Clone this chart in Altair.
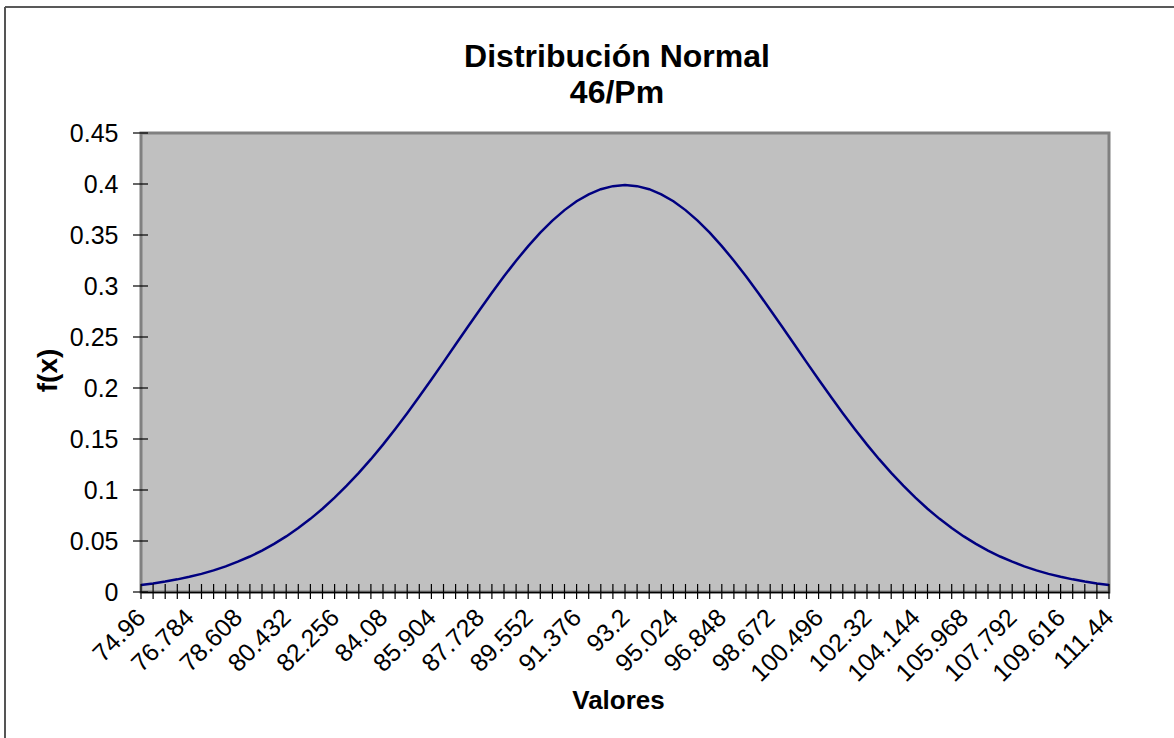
import altair as alt
import pandas as pd

# Category values along the x axis (Valores)
valores = [
    "74.96", "75.416", "75.872", "76.328", "76.784", "77.24", "77.696", "78.152",
    "78.608", "79.064", "79.52", "79.976", "80.432", "80.888", "81.344", "81.8",
    "82.256", "82.712", "83.168", "83.624", "84.08", "84.536", "84.992", "85.448",
    "85.904", "86.36", "86.816", "87.272", "87.728", "88.184", "88.64", "89.096",
    "89.552", "90.008", "90.464", "90.92", "91.376", "91.832", "92.288", "92.744",
    "93.2", "93.656", "94.112", "94.568", "95.024", "95.48", "95.936", "96.392",
    "96.848", "97.304", "97.76", "98.216", "98.672", "99.128", "99.584", "100.04",
    "100.496", "100.952", "101.408", "101.864", "102.32", "102.776", "103.232", "103.688",
    "104.144", "104.6", "105.056", "105.512", "105.968", "106.424", "106.88", "107.336",
    "107.792", "108.248", "108.704", "109.16", "109.616", "110.072", "110.528", "110.984",
    "111.44",
]

# Density f(x) at each category
fx = [
    0.0069, 0.0084, 0.0102, 0.0124, 0.0149, 0.0178, 0.0212, 0.0251,
    0.0297, 0.0348, 0.0406, 0.0472, 0.0545, 0.0627, 0.0717, 0.0816,
    0.0925, 0.1042, 0.1168, 0.1302, 0.1445, 0.1596, 0.1753, 0.1916,
    0.2083, 0.2254, 0.2426, 0.2598, 0.2768, 0.2934, 0.3095, 0.3248,
    0.3391, 0.3523, 0.3641, 0.3744, 0.3831, 0.3899, 0.3949, 0.3979,
    0.3989,
    0.3979, 0.3949, 0.3899, 0.3831, 0.3744, 0.3641, 0.3523, 0.3391,
    0.3248, 0.3095, 0.2934, 0.2768, 0.2598, 0.2426, 0.2254, 0.2083,
    0.1916, 0.1753, 0.1596, 0.1445, 0.1302, 0.1168, 0.1042, 0.0925,
    0.0816, 0.0717, 0.0627, 0.0545, 0.0472, 0.0406, 0.0348, 0.0297,
    0.0251, 0.0212, 0.0178, 0.0149, 0.0124, 0.0102, 0.0084, 0.0069,
]

# Labelled categories on the x axis
etiquetas_x = [
    "74.96", "76.784", "78.608", "80.432", "82.256", "84.08", "85.904",
    "87.728", "89.552", "91.376", "93.2", "95.024", "96.848", "98.672",
    "100.496", "102.32", "104.144", "105.968", "107.792", "109.616", "111.44",
]

# Y axis tick values
ticks_y = [0, 0.05, 0.1, 0.15, 0.2, 0.25, 0.3, 0.35, 0.4, 0.45]

titulo = "Distribución Normal"
subtitulo = "46/Pm"

W, H = 968, 459
FONT = "Liberation Sans"

df = pd.DataFrame({"Valores": valores, "fx": fx})
df_ty = pd.DataFrame({"fx": ticks_y})
df_one = pd.DataFrame({"k": [0]})

x_scale = alt.Scale(type="point", padding=0)
y_scale = alt.Scale(domain=[0, 0.45], nice=False, zero=True)

x_axis = alt.Axis(
    values=etiquetas_x,
    labelAngle=-45,
    labelAlign="right",
    labelBaseline="middle",
    labelPadding=21,
    labelOverlap=False,
    labelBound=False,
    labelFont=FONT,
    labelFontSize=25,
    labelColor="black",
    ticks=False,
    grid=False,
    domainColor="black",
    domainWidth=1.5,
    title="Valores",
    titleFont=FONT,
    titleFontSize=26,
    titleFontWeight="bold",
    titleColor="black",
    titleX=477,
    titleY=108,
    titleAlign="center",
    titleBaseline="middle",
)
y_axis = alt.Axis(
    values=ticks_y,
    format=".2~f",
    domain=False,
    ticks=False,
    grid=False,
    labelPadding=23,
    labelFont=FONT,
    labelFontSize=25,
    labelColor="black",
    title="f(x)",
    titleFont=FONT,
    titleFontSize=28,
    titleFontWeight="bold",
    titleColor="black",
    titleAngle=270,
    titleX=-93,
    titleY=237,
    titleAlign="center",
    titleBaseline="middle",
)

x_enc = alt.X("Valores:O", sort=valores, scale=x_scale, axis=x_axis)
y_enc = alt.Y("fx:Q", scale=y_scale, axis=y_axis)

curve = alt.Chart(df).mark_line(color="#000080", strokeWidth=2.5).encode(
    x=x_enc, y=y_enc
)

# Cross-style tick marks on both axes
x_ticks = alt.Chart(df).mark_rule(color="black", strokeWidth=1.2).encode(
    x=x_enc,
    y=alt.value(H - 8),
    y2=alt.value(H + 7),
)
y_ticks = alt.Chart(df_ty).mark_rule(color="black", strokeWidth=1.2).encode(
    y=y_enc,
    x=alt.value(-8),
    x2=alt.value(7),
)

# Two-line chart title
title_1 = alt.Chart(df_one).mark_text(
    text=titulo, font=FONT, fontSize=32, fontWeight="bold", color="black",
    align="center", baseline="middle",
).encode(x=alt.value(476), y=alt.value(-76))
title_2 = alt.Chart(df_one).mark_text(
    text=subtitulo, font=FONT, fontSize=32, fontWeight="bold", color="black",
    align="center", baseline="middle",
).encode(x=alt.value(476), y=alt.value(-40))

# Outer frame of the chart (top and left edges)
frame_top = alt.Chart(df_one).mark_rule(color="#222222", strokeWidth=1.5).encode(
    x=alt.value(-136), x2=alt.value(1033), y=alt.value(-126)
)
frame_left = alt.Chart(df_one).mark_rule(color="#555555", strokeWidth=2).encode(
    x=alt.value(-136), y=alt.value(-126), y2=alt.value(605)
)

chart = (
    alt.layer(curve, x_ticks, y_ticks, title_1, title_2, frame_top, frame_left)
    .properties(
        width=W,
        height=H,
        autosize=alt.AutoSizeParams(type="none"),
        padding={"left": 141, "top": 133, "right": 65, "bottom": 146},
        background="white",
    )
    .configure_view(fill="#C0C0C0", stroke="#808080", strokeWidth=3)
)

chart.save("out.html", embed_options={"renderer": "svg", "actions": False})
